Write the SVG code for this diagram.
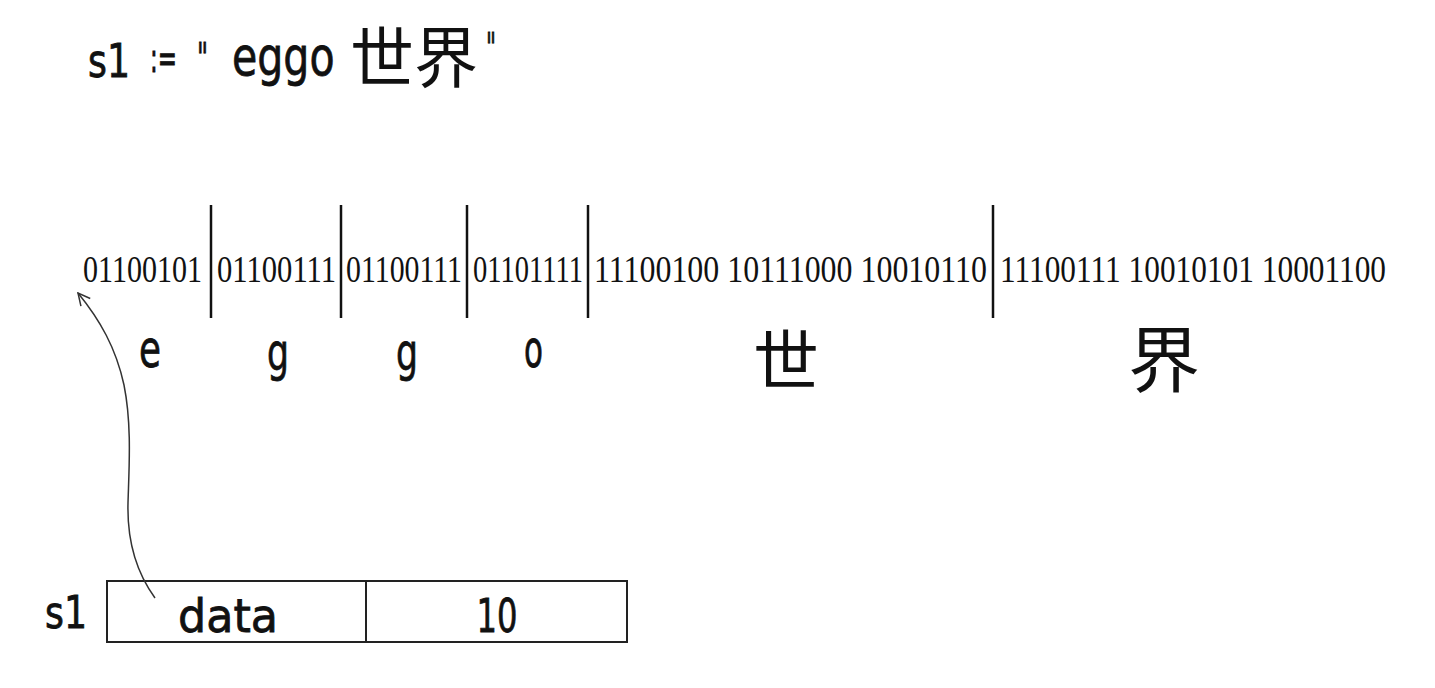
<svg xmlns="http://www.w3.org/2000/svg" width="1435" height="688" viewBox="0 0 1435 688">
<defs>
<style>
.hand{font-family:"DejaVu Sans","Noto Sans",sans-serif;fill:#111;stroke:#111;stroke-width:0.8;}
.bin{font-family:"Liberation Serif","DejaVu Serif",serif;font-size:38px;fill:#111;}
.cjk{font-family:"Noto Sans CJK SC","Noto Sans CJK TC",sans-serif;fill:#111;}
.sep{stroke:#111;stroke-width:2.5;}
.box{fill:#fff;stroke:#222;stroke-width:2;}
.conn{fill:none;stroke:#333;stroke-width:1.5;}
</style>
<marker id="open" viewBox="0 0 14 14" refX="13" refY="7" markerWidth="14" markerHeight="14" markerUnits="userSpaceOnUse" orient="auto">
<path d="M1,1 L13,7 L1,13" fill="none" stroke="#333" stroke-width="1.5"/>
</marker>
</defs>
<rect width="1435" height="688" fill="#fff"/>

<g id="title">
<text class="hand" x="88" y="77" font-size="46" textLength="42" lengthAdjust="spacingAndGlyphs">s1</text>
<text class="hand" x="150" y="72" font-size="40" textLength="27" lengthAdjust="spacingAndGlyphs">:=</text>
<text class="hand" x="197" y="72" font-size="40" textLength="11" lengthAdjust="spacingAndGlyphs">"</text>
<text class="hand" transform="translate(232,75) scale(0.76,1)" font-size="54" textLength="135" lengthAdjust="spacingAndGlyphs">eggo</text>
<text class="cjk" x="350" y="82" font-size="66" textLength="128" lengthAdjust="spacingAndGlyphs">世界</text>
<text class="hand" x="486" y="62" font-size="40" textLength="10" lengthAdjust="spacingAndGlyphs">"</text>
</g>

<g id="bytes">
<text class="bin" transform="translate(83,282) scale(0.78,1)" textLength="152.6" lengthAdjust="spacingAndGlyphs">01100101</text>
<text class="bin" transform="translate(217,282) scale(0.78,1)" textLength="152.6" lengthAdjust="spacingAndGlyphs">01100111</text>
<text class="bin" transform="translate(346,282) scale(0.78,1)" textLength="148.7" lengthAdjust="spacingAndGlyphs">01100111</text>
<text class="bin" transform="translate(473,282) scale(0.78,1)" textLength="141" lengthAdjust="spacingAndGlyphs">01101111</text>
<text class="bin" transform="translate(594,282) scale(0.78,1)" textLength="503.8" lengthAdjust="spacingAndGlyphs">11100100 10111000 10010110</text>
<text class="bin" transform="translate(1000,282) scale(0.78,1)" textLength="494.9" lengthAdjust="spacingAndGlyphs">11100111 10010101 10001100</text>
<line class="sep" x1="211" y1="205" x2="211" y2="318"/>
<line class="sep" x1="341" y1="205" x2="341" y2="318"/>
<line class="sep" x1="467" y1="205" x2="467" y2="318"/>
<line class="sep" x1="588" y1="205" x2="588" y2="318"/>
<line class="sep" x1="993" y1="205" x2="993" y2="318"/>
</g>

<g id="chars">
<text class="hand" x="139" y="367" font-size="52" textLength="22" lengthAdjust="spacingAndGlyphs">e</text>
<text class="hand" x="267" y="370" font-size="52" textLength="22" lengthAdjust="spacingAndGlyphs">g</text>
<text class="hand" x="396" y="370" font-size="52" textLength="22" lengthAdjust="spacingAndGlyphs">g</text>
<text class="hand" x="524" y="367" font-size="52" textLength="19" lengthAdjust="spacingAndGlyphs">o</text>
<text class="cjk" x="786" y="385" font-size="66" text-anchor="middle">世</text>
<text class="cjk" x="1164" y="386" font-size="72" text-anchor="middle">界</text>
</g>

<g id="s1-struct">
<text class="hand" x="45" y="628" font-size="44" textLength="42" lengthAdjust="spacingAndGlyphs">s1</text>
<rect class="box" x="107" y="581" width="520" height="61"/>
<line class="box" x1="366" y1="581" x2="366" y2="642"/>
<text class="hand" x="228" y="632" font-size="46" text-anchor="middle" textLength="100" lengthAdjust="spacingAndGlyphs">data</text>
<text class="hand" x="497" y="632" font-size="46" text-anchor="middle" textLength="41" lengthAdjust="spacingAndGlyphs">10</text>
</g>

<g id="connectors">
<path class="conn" d="M155,598 C136,572 127,540 128,503 C129,468 132,425 124,385 C116,348 100,320 78,293" marker-end="url(#open)"/>
</g>
</svg>
